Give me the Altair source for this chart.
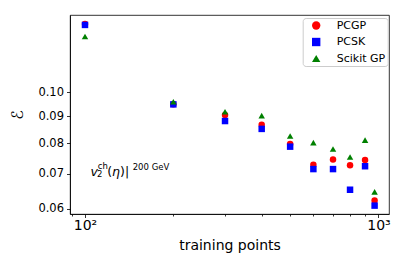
import altair as alt
import pandas as pd

n_points = [100, 200, 300, 400, 500, 600, 700, 800, 900, 970]
pcgp = [0.1352, 0.0950, 0.0906, 0.0868, 0.0797, 0.0728, 0.0745, 0.0726, 0.0743, 0.0622]
pcsk = [0.1346, 0.0949, 0.0882, 0.0852, 0.0788, 0.0714, 0.0714, 0.0652, 0.0723, 0.0608]
scikit = [0.1279, 0.0960, 0.0919, 0.0903, 0.0826, 0.0802, 0.0780, 0.0753, 0.0811, 0.0646]
series = ["PCGP", "PCSK", "Scikit GP"]
colors = ["#ff0000", "#0000ff", "#008000"]
shapes = ["circle", "square", "triangle-up"]
y_ticks = [0.06, 0.07, 0.08, 0.09, 0.10]
x_ticks = [90, 100, 200, 300, 400, 500, 600, 700, 800, 900, 1000]

rows = []
for name, vals in zip(series, [pcgp, pcsk, scikit]):
    for n, v in zip(n_points, vals):
        rows.append({"n": n, "err": v, "method": name})
df = pd.DataFrame(rows)

FONT = "DejaVu Sans"

points = alt.Chart(df).mark_point(filled=True, opacity=1, size=42).encode(
    x=alt.X("n:Q",
            scale=alt.Scale(type="log", domain=[88.9, 1086], nice=False),
            axis=alt.Axis(values=x_ticks,
                          labelExpr="datum.value == 100 ? '10²' : datum.value == 1000 ? '10³' : ''",
                          title="training points", grid=False,
                          tickSize={"condition": {"test": "datum.value == 100 || datum.value == 1000", "value": 3.5}, "value": 2},
                          labelFontSize=14, titleFontSize=14, labelPadding=1,
                          titlePadding=6, labelFlush=False, labelOverlap=False)),
    y=alt.Y("err:Q",
            scale=alt.Scale(type="log", domain=[0.0586, 0.1406], nice=False),
            axis=alt.Axis(values=y_ticks, format=".2f", title="ℰ", grid=False,
                          tickSize=3.5, labelFontSize=11.5, titleFontSize=16,
                          labelPadding=3, titleX=-45, titleY=99.5)),
    color=alt.Color("method:N", scale=alt.Scale(domain=series, range=colors),
                    legend=alt.Legend(title=None, orient="none", legendX=232.7, legendY=3,
                                      symbolSize=70, labelFontSize=11, padding=2,
                                      symbolOffset=6, labelOffset=15, rowPadding=4.5,
                                      strokeColor="#cccccc", fillColor="white",
                                      cornerRadius=3, symbolStrokeWidth=0)),
    shape=alt.Shape("method:N", scale=alt.Scale(domain=series, range=shapes), legend=alt.Legend(title=None, orient="none", legendX=232.7, legendY=3)),
    order=alt.Order("method:N"),
)

one = pd.DataFrame({"a": [0]})

def txt(s, x, y, size, style="normal"):
    return alt.Chart(one).mark_text(text=s, align="left", baseline="alphabetic",
                                    fontSize=size, font=FONT, fontStyle=style,
                                    color="black").encode(x=alt.value(x), y=alt.value(y))

ann = [
    txt("v", 20.5, 160.5, 12.5, "italic"),
    txt("ch", 27.8, 154.3, 8.5),
    txt("2", 27.0, 162.3, 8.5),
    txt("(", 37.3, 160.5, 12.5),
    txt("η", 42.0, 160.5, 12.5, "italic"),
    txt(")|", 50.0, 160.5, 12.5),
    txt("200 GeV", 62.7, 155.2, 8.5),
]

chart = alt.layer(points, *ann).properties(
    width=319, height=199,
    autosize=alt.AutoSizeParams(type="none"),
    padding={"left": 62, "top": 7, "right": 10, "bottom": 49},
).configure(font=FONT).configure_view(
    stroke="black", strokeWidth=0.8
).configure_axis(
    domainColor="black", tickColor="black", labelColor="black", titleColor="black",
    labelFont=FONT, titleFont=FONT, titleFontWeight="normal", domainWidth=0.8, tickWidth=0.8
).configure_legend(labelFont=FONT, labelColor="black")

chart.save("out.html", embed_options={"renderer": "svg", "actions": False})
